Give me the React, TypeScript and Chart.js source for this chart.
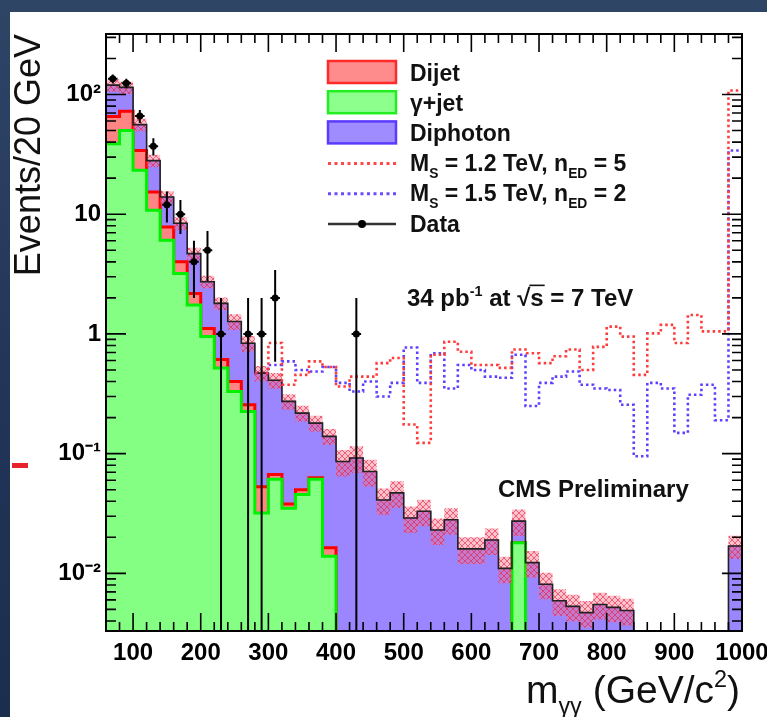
import { useEffect, useRef } from 'react';
import { Chart, registerables } from 'chart.js';

Chart.register(...registerables);

const FONT = "'Liberation Sans', Arial, Helvetica, sans-serif";

// histogram bin edges (GeV), 20 GeV bins
const BIN_EDGES = [60, 80, 100, 120, 140, 160, 180, 200, 220, 240, 260, 280, 300, 320, 340, 360, 380, 400, 420, 440, 460, 480, 500, 520, 540, 560, 580, 600, 620, 640, 660, 680, 700, 720, 740, 760, 780, 800, 820, 840, 860, 880, 900, 920, 940, 960, 980, 1000];

// gamma+jet background (bottom of stack)
const GAMMAJET = [38.8, 50, 23.3, 10.8, 6.07, 3.2, 1.74, 0.95, 0.52, 0.33, 0.225, 0.032, 0.061, 0.035, 0.0455, 0.061, 0.0139,
  0, 0, 0, 0, 0, 0, 0, 0, 0, 0, 0, 0, 0,
  0.018,
  0, 0, 0, 0, 0, 0, 0, 0, 0, 0, 0, 0, 0, 0, 0, 0];

// dijet background (middle of stack)
const DIJET = [26.8, 22.6, 10.7, 4.5, 1.73, 0.8, 0.44, 0.16, 0.09, 0.07, 0.031, 0.021, 0.006, 0.003, 0.0045, 0.002, 0.0025,
  0, 0, 0, 0, 0, 0, 0, 0, 0, 0, 0, 0, 0, 0, 0, 0, 0, 0, 0, 0, 0, 0, 0, 0, 0, 0, 0, 0, 0, 0];

// diphoton background (top of stack)
const DIPHOTON = [54, 42, 22, 12.7, 6.1, 4.4, 2.5, 1.62, 1.19, 0.87, 0.58, 0.417, 0.343, 0.235, 0.168, 0.117, 0.123,
  0.086, 0.092, 0.071, 0.041, 0.047, 0.029, 0.033, 0.023, 0.028, 0.016, 0.016, 0.019, 0.011, 0.0093, 0.0123, 0.0081,
  0.0059, 0.0053, 0.0047, 0.0055, 0.0052, 0.0049, 0, 0, 0, 0, 0, 0, 0, 0.0169];

// relative uncertainty of total background (hatched band)
const REL_ERR = [0.12, 0.12, 0.12, 0.12, 0.12, 0.12, 0.12, 0.12, 0.12, 0.15, 0.15, 0.15, 0.15, 0.15, 0.15, 0.15, 0.15,
  0.25, 0.25, 0.25, 0.25, 0.25, 0.25, 0.25, 0.25, 0.25, 0.25, 0.25, 0.25, 0.25, 0.25, 0.25, 0.25, 0.25, 0.25, 0.25,
  0.25, 0.25, 0.25, 0, 0, 0, 0, 0, 0, 0, 0.22];

// signal + background, M_S = 1.2 TeV, n_ED = 5
const SIGNAL_A = [null, null, null, null, null, null, null, null, null, null, null,
  0.47, 0.84, 0.376, 0.455, 0.59, 0.53, 0.364, 0.44, 0.44, 0.57, 0.63, 0.175, 0.123, 0.67, 0.86, 0.71, 0.55, 0.55,
  0.52, 0.74, 0.69, 0.57, 0.65, 0.74, 0.5, 0.78, 1.15, 0.95, 0.455, 1.01, 1.19, 0.84, 1.44, 1.05, 1.05, 108];

// signal + background, M_S = 1.5 TeV, n_ED = 2
const SIGNAL_B = [null, null, null, null, null, null, null, null, null, null, null,
  0.47, 0.55, 0.59, 0.5, 0.485, 0.53, 0.39, 0.33, 0.4, 0.3, 0.39, 0.77, 0.39, 0.69, 0.35, 0.55, 0.5, 0.44, 0.43,
  0.67, 0.25, 0.39, 0.44, 0.485, 0.376, 0.35, 0.34, 0.256, 0.095, 0.39, 0.35, 0.149, 0.31, 0.376, 0.19, 34];

// observed events per bin
const DATA = [135, 124, 66, 37, 12, 10, 4, 5, 1, 0, 1, 1, 2, 0, 0, 0, 0, 0, 1,
  0, 0, 0, 0, 0, 0, 0, 0, 0, 0, 0, 0, 0, 0, 0, 0, 0, 0, 0, 0, 0, 0, 0, 0, 0, 0, 0, 0];

const X_TICKS = [100, 200, 300, 400, 500, 600, 700, 800, 900, 1000];
const X_TICK_LABELS = ['100', '200', '300', '400', '500', '600', '700', '800', '900', '1000'];
const Y_TICKS = [0.01, 0.1, 1, 10, 100];
const Y_TICK_LABELS = ['10⁻²', '10⁻¹', '1', '10', '10²'];
const Y_MIN = 0.0033;
const Y_MAX = 320;
const X_MIN = 60;
const X_MAX = 1000;

type Seg = { t: string; s?: 'sub' | 'sup'; over?: boolean };

const LEGEND_ITEMS: { kind: string; fill?: string; stroke?: string; color?: string; text: Seg[] }[] = [
  { kind: 'box', fill: '#ff8c8c', stroke: '#ff2a2a', text: [{ t: 'Dijet' }] },
  { kind: 'box', fill: '#8cff8c', stroke: '#22ee22', text: [{ t: 'γ+jet' }] },
  { kind: 'box', fill: '#9f8cff', stroke: '#5a3cff', text: [{ t: 'Diphoton' }] },
  { kind: 'dash', color: '#ff4848', text: [{ t: 'M' }, { t: 'S', s: 'sub' }, { t: ' = 1.2 TeV, n' }, { t: 'ED', s: 'sub' }, { t: ' = 5' }] },
  { kind: 'dash', color: '#6a4cff', text: [{ t: 'M' }, { t: 'S', s: 'sub' }, { t: ' = 1.5 TeV, n' }, { t: 'ED', s: 'sub' }, { t: ' = 2' }] },
  { kind: 'data', text: [{ t: 'Data' }] },
];

const LUMI_TEXT: Seg[] = [{ t: '34 pb' }, { t: '-1', s: 'sup' }, { t: ' at ' }, { t: '√' }, { t: 's', over: true }, { t: ' = 7 TeV' }];
const CMS_TEXT: Seg[] = [{ t: 'CMS Preliminary' }];
const X_TITLE: Seg[] = [{ t: 'm' }, { t: 'γγ', s: 'sub' }, { t: ' (GeV/c' }, { t: '2', s: 'sup' }, { t: ')' }];
const Y_TITLE = 'Events/20 GeV';

const FLOOR = 1e-6;

function stepPoints(vals: (number | null)[]) {
  const pts: { x: number; y: number }[] = [];
  let last = FLOOR;
  for (let i = 0; i < vals.length; i++) {
    const v = vals[i];
    if (v === null) continue;
    last = v > 0 ? v : FLOOR;
    pts.push({ x: BIN_EDGES[i], y: last });
  }
  pts.push({ x: BIN_EDGES[vals.length], y: last });
  return pts;
}

function richWidth(ctx: CanvasRenderingContext2D, segs: Seg[], size: number, weight: string) {
  let w = 0;
  for (const s of segs) {
    const sz = s.s ? size * 0.6 : size;
    ctx.font = `${weight} ${sz}px ${FONT}`;
    w += ctx.measureText(s.t).width;
  }
  return w;
}

function drawRich(ctx: CanvasRenderingContext2D, segs: Seg[], x: number, y: number, size: number, weight: string) {
  let cx = x;
  ctx.textBaseline = 'alphabetic';
  ctx.textAlign = 'left';
  for (const s of segs) {
    const sz = s.s ? size * 0.6 : size;
    ctx.font = `${weight} ${sz}px ${FONT}`;
    const dy = s.s === 'sub' ? size * 0.28 : s.s === 'sup' ? -size * 0.42 : 0;
    ctx.fillText(s.t, cx, y + dy);
    const w = ctx.measureText(s.t).width;
    if (s.over) {
      ctx.save();
      ctx.lineWidth = 1.6;
      ctx.beginPath();
      ctx.moveTo(cx - 1, y - size * 0.86);
      ctx.lineTo(cx + w + 1, y - size * 0.86);
      ctx.stroke();
      ctx.restore();
    }
    cx += w;
  }
}

function makeHatch(ctx: CanvasRenderingContext2D) {
  const c = document.createElement('canvas');
  c.width = 6;
  c.height = 6;
  const g = c.getContext('2d')!;
  g.fillStyle = 'rgba(255,110,130,0.42)';
  g.fillRect(0, 0, 6, 6);
  g.strokeStyle = 'rgba(225,30,70,0.6)';
  g.lineWidth = 1;
  g.beginPath();
  g.moveTo(0, 0);
  g.lineTo(6, 6);
  g.moveTo(6, 0);
  g.lineTo(0, 6);
  g.stroke();
  return ctx.createPattern(c, 'repeat')!;
}

const decorPlugin = {
  id: 'cmsDecor',
  afterDatasetsDraw(chart: any) {
    const { ctx, chartArea: a } = chart;
    const xs = chart.scales.x;
    const ys = chart.scales.y;
    // data error bars
    ctx.save();
    ctx.beginPath();
    ctx.rect(a.left, a.top, a.right - a.left, a.bottom - a.top);
    ctx.clip();
    ctx.strokeStyle = '#000';
    ctx.lineWidth = 2;
    for (let i = 0; i < DATA.length; i++) {
      const n = DATA[i];
      if (n <= 0) continue;
      const e = Math.sqrt(n);
      const xc = xs.getPixelForValue((BIN_EDGES[i] + BIN_EDGES[i + 1]) / 2);
      const yc = ys.getPixelForValue(n);
      const yt = ys.getPixelForValue(n + e);
      const yb = n - e > 0 ? ys.getPixelForValue(n - e) : a.bottom;
      ctx.beginPath();
      ctx.moveTo(xc, yt);
      ctx.lineTo(xc, yb);
      ctx.moveTo(xs.getPixelForValue(BIN_EDGES[i]) + 2, yc);
      ctx.lineTo(xs.getPixelForValue(BIN_EDGES[i + 1]) - 2, yc);
      ctx.stroke();
    }
    ctx.restore();

    // frame and inward ticks (ROOT style)
    ctx.save();
    ctx.strokeStyle = '#000';
    ctx.lineWidth = 2;
    ctx.strokeRect(a.left, a.top, a.right - a.left, a.bottom - a.top);
    ctx.lineWidth = 1.6;
    ctx.beginPath();
    const majX = 18, minX = 9, majY = 20, minY = 10;
    for (const v of X_TICKS) {
      const p = xs.getPixelForValue(v);
      ctx.moveTo(p, a.bottom); ctx.lineTo(p, a.bottom - majX);
      ctx.moveTo(p, a.top); ctx.lineTo(p, a.top + majX);
    }
    for (const v of BIN_EDGES) {
      if (X_TICKS.includes(v) || v <= X_MIN || v >= X_MAX) continue;
      const p = xs.getPixelForValue(v);
      ctx.moveTo(p, a.bottom); ctx.lineTo(p, a.bottom - minX);
      ctx.moveTo(p, a.top); ctx.lineTo(p, a.top + minX);
    }
    for (const v of Y_TICKS) {
      const p = ys.getPixelForValue(v);
      ctx.moveTo(a.left, p); ctx.lineTo(a.left + majY, p);
      ctx.moveTo(a.right, p); ctx.lineTo(a.right - majY, p);
    }
    const decades = [0.001].concat(Y_TICKS);
    for (const d of decades) {
      for (let k = 2; k <= 9; k++) {
        const v = k * d;
        if (v <= Y_MIN || v >= Y_MAX) continue;
        const p = ys.getPixelForValue(v);
        ctx.moveTo(a.left, p); ctx.lineTo(a.left + minY, p);
        ctx.moveTo(a.right, p); ctx.lineTo(a.right - minY, p);
      }
    }
    ctx.stroke();
    ctx.restore();
  },
  afterDraw(chart: any) {
    const { ctx, chartArea: a } = chart;
    ctx.save();
    ctx.fillStyle = '#111';
    // legend
    const bx = 328, bw = 68, bh = 22, tx = 410, y0 = 72, dyRow = 30.2;
    LEGEND_ITEMS.forEach((it, i) => {
      const cy = y0 + i * dyRow;
      if (it.kind === 'box') {
        ctx.fillStyle = it.fill!;
        ctx.fillRect(bx, cy - bh / 2, bw, bh);
        ctx.strokeStyle = it.stroke!;
        ctx.lineWidth = 2.5;
        ctx.strokeRect(bx, cy - bh / 2, bw, bh);
      } else if (it.kind === 'dash') {
        ctx.strokeStyle = it.color!;
        ctx.lineWidth = 3;
        ctx.setLineDash([3, 3.5]);
        ctx.beginPath();
        ctx.moveTo(bx, cy + 1);
        ctx.lineTo(bx + bw, cy + 1);
        ctx.stroke();
        ctx.setLineDash([]);
      } else {
        ctx.strokeStyle = '#333';
        ctx.lineWidth = 2.5;
        ctx.beginPath();
        ctx.moveTo(bx, cy + 1);
        ctx.lineTo(bx + bw, cy + 1);
        ctx.stroke();
        ctx.fillStyle = '#000';
        ctx.beginPath();
        ctx.arc(bx + bw / 2, cy + 1, 4, 0, Math.PI * 2);
        ctx.fill();
      }
      ctx.fillStyle = '#111';
      ctx.strokeStyle = '#111';
      drawRich(ctx, it.text, tx, cy + 8.5, 23, 'bold');
    });
    // annotations
    ctx.fillStyle = '#111';
    ctx.strokeStyle = '#111';
    drawRich(ctx, LUMI_TEXT, 407, 306, 24, 'bold');
    drawRich(ctx, CMS_TEXT, 498, 497, 24, 'bold');
    // x axis title, right aligned to frame
    const w = richWidth(ctx, X_TITLE, 39, 'normal');
    drawRich(ctx, X_TITLE, a.right - 2 - w, 703, 39, 'normal');
    ctx.restore();
  },
};

export default function App() {
  const ref = useRef<HTMLCanvasElement>(null);
  useEffect(() => {
    const canvas = ref.current!;
    const ctx = canvas.getContext('2d')!;
    const hatch = makeHatch(ctx);

    const stackG = GAMMAJET;
    const stackR = GAMMAJET.map((v, i) => v + DIJET[i]);
    const stackT = stackR.map((v, i) => v + DIPHOTON[i]);
    const bandUp = stackT.map((v, i) => v * (1 + REL_ERR[i]));
    const bandDn = stackT.map((v, i) => v * (1 - REL_ERR[i]));
    const dataPts = DATA.map((n, i) => ({ x: (BIN_EDGES[i] + BIN_EDGES[i + 1]) / 2, y: n })).filter((p) => p.y > 0);

    const hist = { stepped: 'before', pointRadius: 0, tension: 0 };

    const chart = new Chart(ctx, {
      type: 'line',
      data: {
        datasets: [
          { label: 'Data', data: dataPts, showLine: false, pointRadius: 3.5, pointBackgroundColor: '#000', pointBorderWidth: 0, order: 0 } as any,
          { ...hist, label: 'SigA', data: stepPoints(SIGNAL_A), borderColor: '#ff3c3c', borderWidth: 2.6, borderDash: [2.5, 3], fill: false, order: 1 } as any,
          { ...hist, label: 'SigB', data: stepPoints(SIGNAL_B), borderColor: '#6040ff', borderWidth: 2.6, borderDash: [2.5, 3], fill: false, order: 2 } as any,
          { ...hist, label: 'Total', data: stepPoints(stackT), borderColor: '#222', borderWidth: 1.6, fill: false, order: 3 } as any,
          { ...hist, label: 'BandUp', data: stepPoints(bandUp), borderWidth: 0, borderColor: 'rgba(0,0,0,0)', backgroundColor: hatch, fill: '+1', order: 4 } as any,
          { ...hist, label: 'BandDn', data: stepPoints(bandDn), borderWidth: 0, borderColor: 'rgba(0,0,0,0)', fill: false, order: 5 } as any,
          { ...hist, label: 'γ+jet', data: stepPoints(stackG), borderColor: '#00f000', borderWidth: 3, backgroundColor: '#84ff84', fill: 'start', order: 6 } as any,
          { ...hist, label: 'Dijet', data: stepPoints(stackR), borderColor: '#ff0000', borderWidth: 3, backgroundColor: '#ff8484', fill: 'start', order: 7 } as any,
          { ...hist, label: 'Diphoton', data: stepPoints(stackT), borderColor: '#7a5cff', borderWidth: 1, backgroundColor: '#9b86ff', fill: 'start', order: 8 } as any,
        ],
      },
      options: {
        responsive: false,
        animation: false,
        events: [],
        layout: { padding: { left: 8, top: 34, right: 25, bottom: 0 } },
        plugins: { legend: { display: false }, tooltip: { enabled: false }, title: { display: false } },
        scales: {
          x: {
            type: 'linear',
            min: X_MIN,
            max: X_MAX,
            grid: { display: false, drawTicks: false },
            border: { display: false },
            ticks: {
              autoSkip: false,
              maxRotation: 0,
              padding: 8,
              color: '#000',
              font: { family: FONT, size: 24, weight: 'bold' },
              callback: (v: any) => {
                const i = X_TICKS.indexOf(Number(v));
                return i >= 0 ? X_TICK_LABELS[i] : '';
              },
            },
            afterBuildTicks: (s: any) => {
              s.ticks = X_TICKS.map((v) => ({ value: v }));
            },
            afterFit: (s: any) => {
              s.height = 86;
              s.paddingLeft = 0;
              s.paddingRight = 0;
            },
          },
          y: {
            type: 'logarithmic',
            min: Y_MIN,
            max: Y_MAX,
            grid: { display: false, drawTicks: false },
            border: { display: false },
            title: { display: true, text: Y_TITLE, align: 'end', color: '#111', font: { family: FONT, size: 36, weight: 'normal' }, padding: { top: 0, bottom: 0 } },
            ticks: {
              autoSkip: false,
              padding: 5,
              color: '#000',
              font: { family: FONT, size: 24, weight: 'bold' },
              callback: (v: any) => {
                const i = Y_TICKS.findIndex((t) => Math.abs(t - Number(v)) / t < 1e-6);
                return i >= 0 ? Y_TICK_LABELS[i] : '';
              },
            },
            afterBuildTicks: (s: any) => {
              s.ticks = Y_TICKS.map((v) => ({ value: v }));
            },
            afterFit: (s: any) => {
              s.width = 98;
              s.paddingTop = 0;
              s.paddingBottom = 0;
            },
          },
        },
      } as any,
      plugins: [decorPlugin],
    });
    return () => chart.destroy();
  }, []);

  return (
    <div style={{ position: 'absolute', left: 0, top: 0, width: 767, height: 717, overflow: 'hidden', background: 'linear-gradient(180deg, #2f4566 0%, #22365a 50%, #1c2e4e 100%)' }}>
      <div style={{ position: 'absolute', left: 10, top: 12, right: 0, bottom: 0, background: '#ffffff' }} />
      <div style={{ position: 'absolute', left: 12, top: 463, width: 16, height: 5, background: '#e8222a' }} />
      <canvas ref={ref} width={767} height={717} style={{ position: 'absolute', left: 0, top: 0, width: 767, height: 717 }} />
    </div>
  );
}
